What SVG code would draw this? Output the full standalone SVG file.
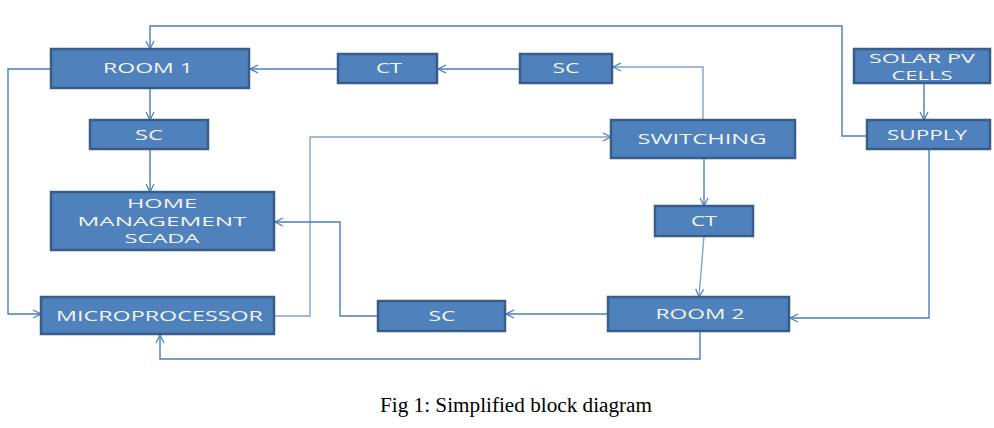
<svg xmlns="http://www.w3.org/2000/svg" width="994" height="428" viewBox="0 0 994 428">
<defs>
<style>
.box{fill:#4f81bd;stroke:#385d8a;stroke-width:2.5}
.t{fill:#f4f4f4;font-family:"Open Sans","Liberation Sans",sans-serif;font-size:14px;text-anchor:middle}
.m{font-size:12.5px}
.c{fill:none;stroke:#4a7ebb;stroke-width:1.4}
.cl{fill:none;stroke:#7fa5d4;stroke-width:1.4}
.cap{fill:#000;font-family:"Liberation Serif","Times New Roman",serif;font-size:20px}
</style>
<marker id="a" markerWidth="10" markerHeight="10" refX="9" refY="5" orient="auto" markerUnits="userSpaceOnUse">
<path d="M1,1 L9,5 L1,9" fill="none" stroke="#4a7ebb" stroke-width="1.2"/>
</marker>
</defs>
<rect width="994" height="428" fill="#fff"/>
<g id="connectors">
<polyline class="c" points="867,136 842,136 842,26 150,26 150,49" marker-end="url(#a)"/>
<line class="c" x1="338" y1="69" x2="250" y2="69" marker-end="url(#a)"/>
<line class="c" x1="520" y1="69" x2="438" y2="69" marker-end="url(#a)"/>
<polyline class="cl" points="703,120 703,67 613,67" marker-end="url(#a)"/>
<line class="c" x1="150" y1="88" x2="150" y2="120" marker-end="url(#a)"/>
<line class="c" x1="150" y1="149" x2="150" y2="192" marker-end="url(#a)"/>
<polyline class="c" points="51,69 8,69 8,314 41,314" marker-end="url(#a)"/>
<polyline class="cl" points="274,316 310,316 310,137 611,137" marker-end="url(#a)"/>
<line class="c" x1="608" y1="314" x2="506" y2="314" marker-end="url(#a)"/>
<polyline class="c" points="378,316 340,316 340,222 275,222" marker-end="url(#a)"/>
<line class="c" x1="704" y1="158" x2="704" y2="206" marker-end="url(#a)"/>
<line class="cl" x1="704" y1="236" x2="699" y2="297" marker-end="url(#a)"/>
<polyline class="c" points="700,331 700,359 160,359 160,335" marker-end="url(#a)"/>
<polyline class="c" points="929,149 929,318 790,318" marker-end="url(#a)"/>
<line class="c" x1="924" y1="83" x2="924" y2="120" marker-end="url(#a)"/>
</g>
<g id="room1"><rect class="box" x="51" y="49" width="198" height="39"/><text class="t" x="148" y="73" textLength="90" lengthAdjust="spacingAndGlyphs">ROOM 1</text></g>
<g id="sc1"><rect class="box" x="90" y="120" width="118" height="29"/><text class="t" x="149" y="140" textLength="28" lengthAdjust="spacingAndGlyphs">SC</text></g>
<g id="home"><rect class="box" x="51" y="192" width="223" height="58"/>
<text class="t m" x="162" y="208" textLength="70" lengthAdjust="spacingAndGlyphs">HOME</text>
<text class="t m" x="162" y="226" textLength="169" lengthAdjust="spacingAndGlyphs">MANAGEMENT</text>
<text class="t m" x="162" y="243" textLength="75" lengthAdjust="spacingAndGlyphs">SCADA</text></g>
<g id="micro"><rect class="box" x="41" y="297" width="233" height="37"/><text class="t" x="159.5" y="321" textLength="207" lengthAdjust="spacingAndGlyphs">MICROPROCESSOR</text></g>
<g id="ct1"><rect class="box" x="338" y="54" width="99" height="29"/><text class="t" x="389" y="73" textLength="26" lengthAdjust="spacingAndGlyphs">CT</text></g>
<g id="sc2"><rect class="box" x="520" y="54" width="92" height="29"/><text class="t" x="566" y="73" textLength="27" lengthAdjust="spacingAndGlyphs">SC</text></g>
<g id="switching"><rect class="box" x="611" y="120" width="184" height="38"/><text class="t" x="702" y="144" textLength="129" lengthAdjust="spacingAndGlyphs">SWITCHING</text></g>
<g id="solar"><rect class="box" x="854" y="49" width="136" height="34"/>
<text class="t m" x="922" y="63" textLength="106" lengthAdjust="spacingAndGlyphs">SOLAR PV</text>
<text class="t m" x="922" y="80" textLength="61" lengthAdjust="spacingAndGlyphs">CELLS</text></g>
<g id="supply"><rect class="box" x="867" y="120" width="123" height="29"/><text class="t" x="927" y="140" textLength="80" lengthAdjust="spacingAndGlyphs">SUPPLY</text></g>
<g id="ct2"><rect class="box" x="655" y="206" width="98" height="30"/><text class="t" x="704" y="226" textLength="26" lengthAdjust="spacingAndGlyphs">CT</text></g>
<g id="room2"><rect class="box" x="608" y="297" width="181" height="34"/><text class="t" x="700" y="319" textLength="89" lengthAdjust="spacingAndGlyphs">ROOM 2</text></g>
<g id="sc3"><rect class="box" x="378" y="301" width="127" height="30"/><text class="t" x="442" y="321" textLength="27" lengthAdjust="spacingAndGlyphs">SC</text></g>
<text class="cap" x="380" y="412" textLength="272" lengthAdjust="spacingAndGlyphs">Fig 1: Simplified block diagram</text>
</svg>
